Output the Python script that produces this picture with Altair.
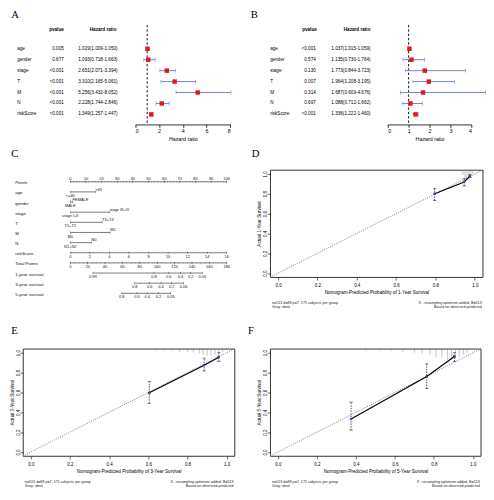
import altair as alt
import pandas as pd

S = 0.97


def p(v):
    return round(v * S, 2)


SANS = "Liberation Sans"
SERIF = "Liberation Serif"
CI_COL = "#7384D6"
PT_COL = "#E8141B"

# ---------------- forest plots (A: univariate, B: multivariate) ----------------
VARS = ["age", "gender", "stage", "T", "M", "N", "riskScore"]
UNI_P = ["0.005", "0.677", "<0.001", "<0.001", "<0.001", "<0.001", "<0.001"]
UNI_HR = [1.029, 1.093, 2.651, 3.310, 5.256, 2.228, 1.349]
UNI_LO = [1.009, 0.718, 2.071, 2.165, 3.432, 1.744, 1.257]
UNI_HI = [1.050, 1.663, 3.394, 5.061, 8.052, 2.846, 1.447]
UNI_TICKS = [0, 2, 4, 6, 8]

MUL_P = ["<0.001", "0.574", "0.130", "0.007", "0.314", "0.697", "<0.001"]
MUL_HR = [1.037, 1.135, 1.773, 1.964, 1.687, 1.088, 1.336]
MUL_LO = [1.015, 0.730, 0.844, 1.208, 0.609, 0.712, 1.222]
MUL_HI = [1.059, 1.764, 3.723, 3.195, 4.676, 1.662, 1.460]
MUL_TICKS = [0, 1, 2, 3, 4]

# ---------------- nomogram (C) ----------------
NOMO_ROWS = ["Points", "age", "gender", "stage", "T", "M", "N", "riskScore",
             "Total Points", "1-year survival", "3-year survival", "5-year survival"]
POINTS_TICKS = [0, 10, 20, 30, 40, 50, 60, 70, 80, 90, 100]
CAT_ROW = ["age", "age", "gender", "gender", "stage", "stage", "T", "T", "M", "M", "N", "N"]
CAT_LEVEL = ["<=65", ">65", "MALE", "FEMALE", "stage I+II", "stage III+IV",
             "T1+T2", "T3+T4", "M0", "M1", "N1+N2", "N0"]
CAT_PTS = [0, 16, 0, 1.5, 0, 25, 0, 20.4, 0, 25.5, 0, 13.5]
RISK_TICKS = [0, 2, 4, 6, 8, 10, 12, 14, 16]
TOTAL_TICKS = [0, 20, 40, 60, 80, 100, 120, 140, 160, 180]
S1_LAB = ["0.99", "0.8", "0.6", "0.4", "0.2", "0.05"]
S1_TP = [26.0, 96.3, 113.3, 126.7, 138.6, 151.9]
S3_LAB = ["0.8", "0.6", "0.4", "0.2", "0.05"]
S3_TP = [74.1, 91.4, 104.4, 116.7, 130.3]
S5_LAB = ["0.8", "0.6", "0.4", "0.2", "0.05"]
S5_TP = [59.3, 76.7, 88.5, 101.4, 115.6]

# ---------------- calibration curves (D, E, F) ----------------
LIM = [-0.04, 1.04]
TICKS01 = [0.0, 0.2, 0.4, 0.6, 0.8, 1.0]
D_PRED = [0.796, 0.946, 0.975]
D_OBS = [0.800, 0.918, 0.977]
D_LO = [0.732, 0.879, 0.962]
D_HI = [0.853, 0.951, 0.992]
D_RUG_X = [0.93, 0.94, 0.95, 0.96, 0.97, 0.98, 0.99]
D_RUG_H = [0.02, 0.05, 0.08, 0.10, 0.10, 0.07, 0.04]

E_PRED = [0.605, 0.885, 0.960]
E_OBS = [0.597, 0.874, 0.955]
E_LO = [0.490, 0.816, 0.913]
E_HI = [0.710, 0.945, 1.000]
E_RUG_X = [0.56, 0.60, 0.64, 0.68, 0.72, 0.76, 0.80, 0.83, 0.86, 0.88, 0.90, 0.92, 0.94, 0.96, 0.98]
E_RUG_H = [0.01, 0.01, 0.02, 0.02, 0.02, 0.03, 0.03, 0.04, 0.05, 0.06, 0.07, 0.07, 0.06, 0.05, 0.03]

F_PRED = [0.375, 0.763, 0.905]
F_OBS = [0.333, 0.761, 0.961]
F_LO = [0.220, 0.638, 0.913]
F_HI = [0.503, 0.887, 1.000]
F_RUG_X = [0.08, 0.15, 0.22, 0.30, 0.38, 0.45, 0.52, 0.58, 0.64, 0.70, 0.74, 0.78, 0.81, 0.84,
           0.87, 0.89, 0.91, 0.93, 0.95, 0.97]
F_RUG_H = [0.01, 0.01, 0.01, 0.01, 0.01, 0.02, 0.02, 0.02, 0.03, 0.04, 0.05, 0.06, 0.08, 0.09,
           0.11, 0.11, 0.10, 0.08, 0.06, 0.04]

FOOT_L = "n=513 d=89 p=7, 171 subjects per group\nGray: ideal"
FOOT_R = "X - resampling optimism added, B=513\nBased on observed-predicted"


def letter_layer(letter, dx, dy):
    return alt.Chart(pd.DataFrame({"t": [letter]})).mark_text(
        font=SERIF, fontSize=p(11), align="left", baseline="top", color="black"
    ).encode(x=alt.value(p(dx)), y=alt.value(p(dy)), text="t:N")


def forest(letter, pv, hr, lo, hi, ticks, cols, xr, w, lpos):
    df = pd.DataFrame({
        "var": VARS, "pv": pv, "hr": hr, "lo": lo, "hi": hi,
        "txt": [f"{a:.3f}({b:.3f}-{c:.3f})" for a, b, c in zip(hr, lo, hi)],
    })
    xs = alt.Scale(domain=[ticks[0], ticks[-1]], range=[p(xr[0]), p(xr[1])], nice=False, zero=False)
    ax = alt.Axis(values=ticks, format="d", title="Hazard ratio", grid=False,
                  domainColor="black", tickColor="black", labelColor="black", titleColor="black",
                  domainWidth=0.8, tickWidth=0.8, tickSize=p(3),
                  labelFontSize=p(5.5), titleFontSize=p(5.5), titleFontWeight="normal",
                  labelFont=SANS, titleFont=SANS, labelPadding=p(1.5), titlePadding=p(2))
    ys = alt.Scale(type="point", domain=VARS, range=[p(19), p(98.3)])
    Y = alt.Y("var:N", scale=ys, axis=None)
    base = alt.Chart(df)
    ref = alt.Chart(pd.DataFrame({"v": [1.0]})).mark_rule(
        color="black", strokeDash=[p(2.5), p(2)], strokeWidth=0.9
    ).encode(x=alt.X("v:Q", scale=xs, axis=ax))
    ci = base.mark_rule(color=CI_COL, strokeWidth=1).encode(
        x=alt.X("lo:Q", scale=xs, axis=ax), x2="hi:Q", y=Y)
    caps = base.transform_fold(["lo", "hi"], as_=["end", "val"]).mark_tick(
        orient="vertical", color=CI_COL, size=p(4), thickness=0.9
    ).encode(x=alt.X("val:Q", scale=xs, axis=ax), y=Y)
    pts = base.mark_square(color=PT_COL, size=round(p(4.6) ** 2, 1), opacity=1).encode(
        x=alt.X("hr:Q", scale=xs, axis=ax), y=Y)
    tstyle = dict(font=SANS, fontSize=p(4.8), color="black", baseline="middle")
    names = base.mark_text(align="left", **tstyle).encode(
        x=alt.value(p(cols[0])), y=Y, text="var:N")
    pvals = base.mark_text(align="right", **tstyle).encode(
        x=alt.value(p(cols[1])), y=Y, text="pv:N")
    hrs = base.mark_text(align="right", **tstyle).encode(
        x=alt.value(p(cols[2])), y=Y, text="txt:N")
    hstyle = dict(font=SANS, fontSize=p(4.8), color="black", baseline="middle",
                  align="center", fontWeight="bold")
    h1 = alt.Chart(pd.DataFrame({"t": ["pvalue"]})).mark_text(**hstyle).encode(
        x=alt.value(p(cols[3])), y=alt.value(p(5)), text="t:N")
    h2 = alt.Chart(pd.DataFrame({"t": ["Hazard ratio"]})).mark_text(**hstyle).encode(
        x=alt.value(p(cols[4])), y=alt.value(p(5)), text="t:N")
    return alt.layer(ref, ci, caps, pts, names, pvals, hrs, h1, h2,
                     letter_layer(letter, *lpos)).properties(width=p(w), height=p(103))


def nomogram():
    rec = []
    for v in POINTS_TICKS:
        rec.append(dict(row="Points", val=v, k=1.0, label=str(v), kind="above_c"))
    for v in range(0, 101, 2):
        rec.append(dict(row="Points", val=v, k=1.0, label="", kind="minor"))
    for r, lev, v in zip(CAT_ROW, CAT_LEVEL, CAT_PTS):
        rec.append(dict(row=r, val=v, k=1.0, label=lev, kind="above_l" if v > 0 else "below"))
    for v in RISK_TICKS:
        rec.append(dict(row="riskScore", val=v, k=100 / 16, label=str(v), kind="below"))
    for v in TOTAL_TICKS:
        rec.append(dict(row="Total Points", val=v, k=100 / 180, label=str(v), kind="below"))
    for v in range(0, 181, 5):
        rec.append(dict(row="Total Points", val=v, k=100 / 180, label="", kind="minor"))
    for rname, labs, tps in [("1-year survival", S1_LAB, S1_TP),
                             ("3-year survival", S3_LAB, S3_TP),
                             ("5-year survival", S5_LAB, S5_TP)]:
        for lab, tp in zip(labs, tps):
            rec.append(dict(row=rname, val=tp, k=100 / 180, label=lab, kind="below"))
    df = pd.DataFrame(rec)
    xs = alt.Scale(domain=[0, 100], range=[p(49), p(211)], nice=False, zero=False)
    ys = alt.Scale(type="point", domain=NOMO_ROWS, range=[p(7), p(133)])
    X = alt.X("pos:Q", scale=xs, axis=None)
    Y = alt.Y("row:N", scale=ys, axis=None)
    base = alt.Chart(df).transform_calculate(pos="datum.val * datum.k")
    lines = base.transform_aggregate(lo="min(pos)", hi="max(pos)", groupby=["row"]).mark_rule(
        color="#222", strokeWidth=0.6).encode(
        x=alt.X("lo:Q", scale=xs, axis=None), x2="hi:Q", y=Y)
    ticks = base.transform_filter("datum.kind != 'minor'").mark_tick(
        orient="vertical", size=p(2.6), thickness=0.5, color="#222").encode(x=X, y=Y)
    minor = base.transform_filter("datum.kind == 'minor'").mark_tick(
        orient="vertical", size=p(1.4), thickness=0.4, color="#444").encode(x=X, y=Y)
    ls = dict(font=SANS, fontSize=p(4.1), color="#111", baseline="middle")
    lab_ac = base.transform_filter("datum.kind == 'above_c'").mark_text(
        align="center", dy=-p(2.8), **ls).encode(x=X, y=Y, text="label:N")
    lab_al = base.transform_filter("datum.kind == 'above_l'").mark_text(
        align="left", dy=-p(2.4), **ls).encode(x=X, y=Y, text="label:N")
    lab_b = base.transform_filter("datum.kind == 'below'").mark_text(
        align="center", dy=p(4.2), **ls).encode(x=X, y=Y, text="label:N")
    names = alt.Chart(pd.DataFrame({"row": NOMO_ROWS})).mark_text(
        align="left", baseline="middle", dy=p(1.6), font=SANS, fontSize=p(4.5), color="#111"
    ).encode(x=alt.value(p(-8)), y=Y, text="row:N")
    return alt.layer(lines, minor, ticks, lab_ac, lab_al, lab_b, names,
                     letter_layer("C", -12, -22)).properties(width=p(230), height=p(138))


def calib(letter, year, pred, obs, lo, hi, rug_x, rug_h, w, lpos):
    h = 111
    xs = alt.Scale(domain=LIM, nice=False, zero=False)
    ys = alt.Scale(domain=LIM, nice=False, zero=False)
    common = dict(values=TICKS01, format=".1f", grid=False, domain=False,
                  tickColor="black", labelColor="black", titleColor="black",
                  tickWidth=0.6, tickSize=p(3), labelFontSize=p(4.6), titleFontSize=p(4.8),
                  titleFontWeight="normal", labelFont=SANS, titleFont=SANS)
    axx = alt.Axis(title=f"Nomogram-Predicted Probability of {year}-Year Survival",
                   labelPadding=p(2.5), titlePadding=p(3), **common)
    axy = alt.Axis(title=f"Actual {year}-Year Survival", labelAngle=270, labelAlign="center",
                   labelBaseline="bottom", labelPadding=0, titlePadding=p(1), **common)
    X = lambda f: alt.X(f, scale=xs, axis=axx)
    Yc = lambda f: alt.Y(f, scale=ys, axis=axy)
    df = pd.DataFrame({"pred": pred, "obs": obs, "lo": lo, "hi": hi})
    base = alt.Chart(df)
    ideal = alt.Chart(pd.DataFrame({"v": LIM})).mark_line(
        color="#8c8c8c", strokeDash=[p(1.2), p(1.2)], strokeWidth=1).encode(x=X("v:Q"), y=Yc("v:Q"))
    rug = alt.Chart(pd.DataFrame({"rx": rug_x, "rh": rug_h})).transform_calculate(
        top=f"{LIM[1]}", bot=f"{LIM[1]} - datum.rh").mark_rule(
        color="#8a8a8a", strokeWidth=0.5).encode(x=X("rx:Q"), y=Yc("top:Q"), y2="bot:Q")
    eb = base.mark_rule(color="#111", strokeWidth=0.7, strokeDash=[p(1.6), p(1.1)]).encode(
        x=X("pred:Q"), y=Yc("lo:Q"), y2="hi:Q")
    caps = base.transform_fold(["lo", "hi"], as_=["end", "val"]).mark_tick(
        orient="horizontal", size=p(3.5), thickness=0.7, color="#111").encode(
        x=X("pred:Q"), y=Yc("val:Q"))
    line = base.mark_line(color="black", strokeWidth=1.2).encode(x=X("pred:Q"), y=Yc("obs:Q"))
    dots = base.mark_point(shape="circle", filled=True, size=5, color="black", opacity=1).encode(
        x=X("pred:Q"), y=Yc("obs:Q"))
    xs_mark = base.mark_point(shape="cross", angle=45, filled=True, size=7, color="#3348B8",
                              opacity=1).encode(x=X("pred:Q"), y=Yc("obs:Q"))
    fs = dict(font=SANS, fontSize=p(3.8), color="#222", baseline="top", lineBreak="\n",
              lineHeight=p(4.2))
    fl = alt.Chart(pd.DataFrame({"t": [FOOT_L]})).mark_text(align="left", **fs).encode(
        x=alt.value(p(2)), y=alt.value(p(h + 24.5)), text="t:N")
    fr = alt.Chart(pd.DataFrame({"t": [FOOT_R]})).mark_text(align="right", **fs).encode(
        x=alt.value(p(w - 1)), y=alt.value(p(h + 24.5)), text="t:N")
    return alt.layer(ideal, rug, eb, caps, line, dots, xs_mark, fl, fr,
                     letter_layer(letter, *lpos)).properties(
        width=p(w), height=p(h), view=alt.ViewBackground(stroke="black", strokeWidth=0.8))


A = forest("A", UNI_P, UNI_HR, UNI_LO, UNI_HI, UNI_TICKS,
           cols=[-6, 42.3, 98, 34.7, 83], xr=[116.3, 214.7], w=216, lpos=(-12, -15))
B = forest("B", MUL_P, MUL_HR, MUL_LO, MUL_HI, MUL_TICKS,
           cols=[0, 47.3, 104, 40.7, 90], xr=[121.7, 208.3], w=221, lpos=(-20, -15))
C = nomogram()
D = calib("D", 1, D_PRED, D_OBS, D_LO, D_HI, D_RUG_X, D_RUG_H, w=220, lpos=(-19, -22))
E = calib("E", 3, E_PRED, E_OBS, E_LO, E_HI, E_RUG_X, E_RUG_H, w=219, lpos=(-12, -24))
F = calib("F", 5, F_PRED, F_OBS, F_LO, F_HI, F_RUG_X, F_RUG_H, w=218, lpos=(-23, -24))

chart = alt.concat(A, B, C, D, E, F, columns=2, bounds="flush",
                   spacing={"row": p(47), "column": p(25)}, padding=0).configure(
    font=SANS).configure_view(strokeWidth=0, stroke="transparent")

chart.save("out.html", embed_options={"renderer": "svg", "actions": False})
